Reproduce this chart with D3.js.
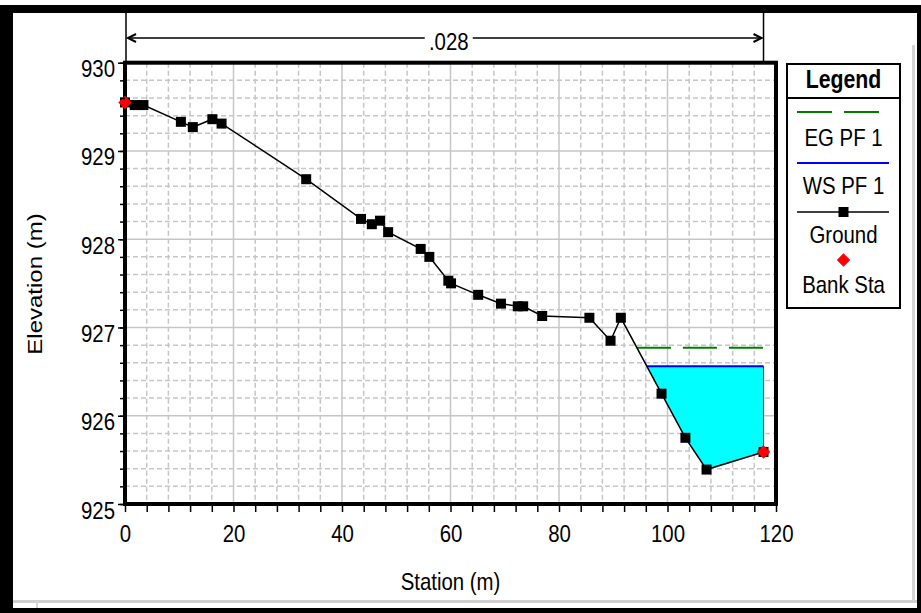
<!DOCTYPE html>
<html>
<head>
<meta charset="utf-8">
<script src="https://cdn.jsdelivr.net/npm/d3@7"></script>
<style>
  html, body { margin: 0; padding: 0; background: #fff; }
  svg { display: block; }
  text { font-family: "Liberation Sans", Arial, sans-serif; fill: #000; }
</style>
</head>
<body>
<svg id="chart" width="921" height="613"></svg>
<script>
// Cross-section ground survey: station (m) and elevation (m)
const stations   = [0, 1.8, 3.4, 10.3, 12.5, 16.1, 17.8, 33.4, 43.5, 45.5, 47.0, 48.5, 54.5, 56.1,
                    59.6, 60.1, 65.1, 69.3, 72.4, 73.4, 76.9, 85.6, 89.5, 91.4, 98.9, 103.3, 107.2, 117.7];
const elevations = [929.55, 929.52, 929.52, 929.33, 929.27, 929.36, 929.31, 928.68, 928.23, 928.17, 928.21, 928.08, 927.89, 927.80,
                    927.53, 927.50, 927.37, 927.27, 927.24, 927.24, 927.13, 927.11, 926.85, 927.11, 926.25, 925.75, 925.39, 925.59];

// Bank stations (left, right)
const bankStations = [0, 117.7];

// Profile results
const wsElevation = 926.56;   // WS PF 1
const egElevation = 926.77;   // EG PF 1
const manningN = ".028";

// Axis ticks
const xMajorTicks = [0, 20, 40, 60, 80, 100, 120];
const xMinorTicks = d3.range(0, 121, 4);
const yMajorTicks = [925, 926, 927, 928, 929, 930];
const yMinorTicks = d3.range(925, 930.01, 0.2).map(v => +v.toFixed(1));

const legendItems = ["EG PF 1", "WS PF 1", "Ground", "Bank Sta"];

const ground = stations.map((s, i) => ({ s, z: elevations[i] }));
const svg = d3.select("#chart");
const SX = 0.85; // horizontal squeeze of all lettering

const x = d3.scaleLinear().domain([0, 120]).range([125, 776]);
const y = d3.scaleLinear().domain([925, 930]).range([504, 62.7]);

// ---- window frame ----
svg.append("rect").attr("x", 0).attr("y", 0).attr("width", 921).attr("height", 613).attr("fill", "#fff");
svg.append("line").attr("x1", 913.5).attr("x2", 913.5).attr("y1", 45).attr("y2", 602)
  .attr("stroke", "#d4d4d4").attr("stroke-width", 3);
svg.append("line").attr("x1", 13).attr("x2", 917).attr("y1", 601.5).attr("y2", 601.5)
  .attr("stroke", "#cfcfcf").attr("stroke-width", 3);
svg.append("line").attr("x1", 37).attr("x2", 37).attr("y1", 603).attr("y2", 608)
  .attr("stroke", "#aaa").attr("stroke-width", 1);
svg.append("rect").attr("x", 0).attr("y", 5).attr("width", 921).attr("height", 8).attr("fill", "#000");
svg.append("rect").attr("x", 0).attr("y", 5).attr("width", 13).attr("height", 608).attr("fill", "#000");
svg.append("rect").attr("x", 917).attr("y", 5).attr("width", 4).attr("height", 608).attr("fill", "#000");
svg.append("rect").attr("x", 0).attr("y", 608).attr("width", 921).attr("height", 5).attr("fill", "#000");

// ---- grid ----
const grid = svg.append("g");
const x0 = x(0), x1 = x(120), yTop = y(930), yBot = y(925);
grid.selectAll(".vminor").data(xMinorTicks.filter(d => d % 20 !== 0)).join("line")
  .attr("x1", d => x(d)).attr("x2", d => x(d)).attr("y1", yTop).attr("y2", yBot)
  .attr("stroke", "#c6c6c6").attr("stroke-width", 1.5).attr("stroke-dasharray", "5,3");
grid.selectAll(".hminor").data(yMinorTicks.filter(d => Math.abs(d - Math.round(d)) > 1e-6)).join("line")
  .attr("x1", x0).attr("x2", x1).attr("y1", d => y(d)).attr("y2", d => y(d))
  .attr("stroke", "#c6c6c6").attr("stroke-width", 1.5).attr("stroke-dasharray", "5,3");
grid.selectAll(".vmajor").data(xMajorTicks).join("line")
  .attr("x1", d => x(d)).attr("x2", d => x(d)).attr("y1", yTop).attr("y2", yBot)
  .attr("stroke", "#c6c6c6").attr("stroke-width", 1.5);
grid.selectAll(".hmajor").data(yMajorTicks).join("line")
  .attr("x1", x0).attr("x2", x1).attr("y1", d => y(d)).attr("y2", d => y(d))
  .attr("stroke", "#c6c6c6").attr("stroke-width", 1.5);

// ---- plot frame ----
svg.append("rect").attr("x", x0).attr("y", yTop).attr("width", x1 - x0).attr("height", yBot - yTop)
  .attr("fill", "none").attr("stroke", "#000").attr("stroke-width", 4);

// ---- water: intersections of water levels with the ground on the right bank side ----
function crossing(level) {
  // walk from the right end leftwards until ground rises above the level
  for (let i = ground.length - 1; i > 0; i--) {
    const a = ground[i - 1], b = ground[i];
    if (a.z >= level && b.z < level) {
      const t = (a.z - level) / (a.z - b.z);
      return { idx: i, s: a.s + t * (b.s - a.s) };
    }
  }
  return { idx: 0, s: ground[0].s };
}
const endSta = stations[stations.length - 1];
const ws = crossing(wsElevation);
const eg = crossing(egElevation);

const waterPts = [[ws.s, wsElevation]]
  .concat(ground.slice(ws.idx).map(p => [p.s, p.z]))
  .concat([[endSta, wsElevation]]);
svg.append("path")
  .attr("d", d3.line().x(d => x(d[0])).y(d => y(d[1]))(waterPts) + "Z")
  .attr("fill", "#00ffff").attr("stroke", "none");
svg.append("line").attr("x1", x(endSta)).attr("x2", x(endSta))
  .attr("y1", y(wsElevation)).attr("y2", y(elevations[elevations.length - 1]))
  .attr("stroke", "#333").attr("stroke-width", 1);

// WS line
svg.append("line").attr("x1", x(ws.s)).attr("x2", x(endSta))
  .attr("y1", y(wsElevation)).attr("y2", y(wsElevation))
  .attr("stroke", "#0000ff").attr("stroke-width", 2);
// EG line
svg.append("line").attr("x1", x(eg.s)).attr("x2", x(endSta))
  .attr("y1", y(egElevation)).attr("y2", y(egElevation))
  .attr("stroke", "#008000").attr("stroke-width", 2).attr("stroke-dasharray", "34,12");

// ---- ground ----
svg.append("path")
  .attr("d", d3.line().x(d => x(d.s)).y(d => y(d.z))(ground))
  .attr("fill", "none").attr("stroke", "#000").attr("stroke-width", 1.5);
svg.selectAll(".gpt").data(ground).join("rect")
  .attr("x", d => x(d.s) - 5).attr("y", d => y(d.z) - 5)
  .attr("width", 10).attr("height", 10).attr("fill", "#000");

// bank stations
const diamond = d3.symbol().type(d3.symbolDiamond2).size(115);
const elevAt = s => ground.find(p => p.s === s).z;
svg.selectAll(".bank").data(bankStations).join("path")
  .attr("d", diamond)
  .attr("transform", d => `translate(${x(d)},${y(elevAt(d))})`)
  .attr("fill", "#ff0000");

// ---- axes ----
const yMinorAxis = svg.append("g").attr("transform", `translate(${x0},0)`)
  .call(d3.axisLeft(y).tickValues(yMinorTicks).tickSize(5).tickFormat(""));
const yAxis = svg.append("g").attr("transform", `translate(${x0},0)`)
  .call(d3.axisLeft(y).tickValues(yMajorTicks).tickSize(7).tickFormat(d3.format("d")));
const xAxis = svg.append("g").attr("transform", `translate(0,${yBot})`)
  .call(d3.axisBottom(x).tickValues(xMinorTicks).tickSize(8)
    .tickFormat(d => xMajorTicks.includes(d) ? d3.format("d")(d) : ""));
[yMinorAxis, yAxis, xAxis].forEach(g => {
  g.select(".domain").remove();
  g.selectAll(".tick line").attr("stroke", "#000").attr("stroke-width", 1.5);
});
yAxis.selectAll(".tick text")
  .attr("x", 0).attr("dy", null).attr("y", 0)
  .attr("text-anchor", "end")
  .attr("transform", `translate(-10,14) scale(${SX},1)`)
  .style("font-size", "24px").style("font-family", "Liberation Sans, Arial, sans-serif");
xAxis.selectAll(".tick text")
  .attr("y", 0).attr("dy", null)
  .attr("text-anchor", "middle")
  .attr("transform", `translate(0,38) scale(${SX},1)`)
  .style("font-size", "24px").style("font-family", "Liberation Sans, Arial, sans-serif");

// axis titles
svg.append("text").text("Station (m)")
  .attr("text-anchor", "middle").attr("font-size", 24)
  .attr("transform", `translate(${(x0 + x1) / 2},590) scale(${SX},1)`);
svg.append("text").text("Elevation (m)")
  .attr("text-anchor", "middle").attr("font-size", 24)
  .attr("transform", `translate(41.5,284) scale(${SX},1) rotate(-90)`);

// ---- Manning's n extent arrow ----
const nL = x(stations[0]) + 1, nR = x(endSta), nY = 38;
const arrow = svg.append("g").attr("stroke", "#000").attr("fill", "none").attr("stroke-width", 1.5);
arrow.append("line").attr("x1", nL).attr("x2", nL).attr("y1", 13).attr("y2", yTop);
arrow.append("line").attr("x1", nR).attr("x2", nR).attr("y1", 13).attr("y2", yTop);
const midX = (nL + nR) / 2 + 4;
arrow.append("line").attr("x1", nL + 2).attr("x2", midX - 24).attr("y1", nY).attr("y2", nY);
arrow.append("line").attr("x1", midX + 24).attr("x2", nR - 2).attr("y1", nY).attr("y2", nY);
arrow.append("path").attr("d", `M${nL + 10},${nY - 4} L${nL + 2},${nY} L${nL + 10},${nY + 4}`).attr("stroke-width", 2);
arrow.append("path").attr("d", `M${nR - 10},${nY - 4} L${nR - 2},${nY} L${nR - 10},${nY + 4}`).attr("stroke-width", 2);
svg.append("text").text(manningN)
  .attr("text-anchor", "middle").attr("font-size", 24)
  .attr("transform", `translate(${midX},50) scale(${SX},1)`);

// ---- legend ----
const lg = svg.append("g");
const lgX = 787, lgW = 113, lgY = 64, lgH = 244, cx = lgX + lgW / 2;
lg.append("rect").attr("x", lgX).attr("y", lgY).attr("width", lgW).attr("height", lgH)
  .attr("fill", "#fff").attr("stroke", "#000").attr("stroke-width", 2);
lg.append("line").attr("x1", lgX).attr("x2", lgX + lgW).attr("y1", 98).attr("y2", 98)
  .attr("stroke", "#000").attr("stroke-width", 2);
lg.append("text").text("Legend").attr("text-anchor", "middle")
  .attr("font-size", 25).attr("font-weight", "bold")
  .attr("transform", `translate(${cx},88) scale(${SX},1)`);

lg.append("line").attr("x1", 797).attr("x2", 880).attr("y1", 112).attr("y2", 112)
  .attr("stroke", "#008000").attr("stroke-width", 2).attr("stroke-dasharray", "35,12");
lg.append("line").attr("x1", 797).attr("x2", 889).attr("y1", 163).attr("y2", 163)
  .attr("stroke", "#0000ff").attr("stroke-width", 2);
lg.append("line").attr("x1", 797).attr("x2", 889).attr("y1", 212).attr("y2", 212)
  .attr("stroke", "#000").attr("stroke-width", 1.5);
lg.append("rect").attr("x", cx - 5).attr("y", 207).attr("width", 10).attr("height", 10).attr("fill", "#000");
lg.append("path").attr("d", diamond).attr("transform", `translate(${cx},260)`).attr("fill", "#ff0000");

const labelBaselines = [146, 194, 243, 293];
lg.selectAll(".lt").data(legendItems).join("text")
  .text(d => d).attr("text-anchor", "middle").attr("font-size", 24)
  .attr("transform", (d, i) => `translate(${cx},${labelBaselines[i]}) scale(${SX},1)`);
</script>
</body>
</html>
